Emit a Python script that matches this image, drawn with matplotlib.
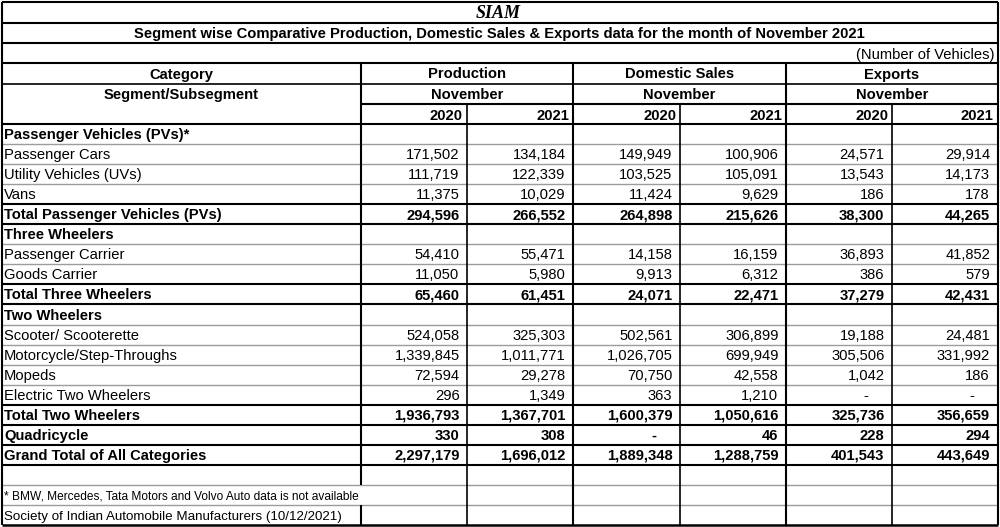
"""SIAM November 2021 segment-wise production / domestic sales / exports table."""

import matplotlib

matplotlib.use("Agg")
import matplotlib.pyplot as plt

# ---- data -----------------------------------------------------------------
row_labels = [
    "Passenger Vehicles (PVs)*",
    "Passenger Cars",
    "Utility Vehicles (UVs)",
    "Vans",
    "Total Passenger Vehicles (PVs)",
    "Three Wheelers",
    "Passenger Carrier",
    "Goods Carrier",
    "Total Three Wheelers",
    "Two Wheelers",
    "Scooter/ Scooterette",
    "Motorcycle/Step-Throughs",
    "Mopeds",
    "Electric Two Wheelers",
    "Total Two Wheelers",
    "Quadricycle",
    "Grand Total of All Categories",
]
# "heading" = segment title, "total" = bold row, "item" = normal row
row_kinds = ["heading", "item", "item", "item", "total",
             "heading", "item", "item", "total",
             "heading", "item", "item", "item", "item", "total",
             "total", "total"]

production_2020 = [None, 171502, 111719, 11375, 294596, None, 54410, 11050, 65460,
                   None, 524058, 1339845, 72594, 296, 1936793, 330, 2297179]
production_2021 = [None, 134184, 122339, 10029, 266552, None, 55471, 5980, 61451,
                   None, 325303, 1011771, 29278, 1349, 1367701, 308, 1696012]
domestic_2020 = [None, 149949, 103525, 11424, 264898, None, 14158, 9913, 24071,
                 None, 502561, 1026705, 70750, 363, 1600379, 0, 1889348]
domestic_2021 = [None, 100906, 105091, 9629, 215626, None, 16159, 6312, 22471,
                 None, 306899, 699949, 42558, 1210, 1050616, 46, 1288759]
exports_2020 = [None, 24571, 13543, 186, 38300, None, 36893, 386, 37279,
                None, 19188, 305506, 1042, 0, 325736, 228, 401543]
exports_2021 = [None, 29914, 14173, 178, 44265, None, 41852, 579, 42431,
                None, 24481, 331992, 186, 0, 356659, 294, 443649]

groups = ["Production", "Domestic Sales", "Exports"]
month = "November"
years = ["2020", "2021"]

title = "SIAM"
subtitle = ("Segment wise Comparative Production, Domestic Sales & Exports data "
            "for the month of November 2021")
unit_note = "(Number of Vehicles)"
footnote = "* BMW, Mercedes, Tata Motors and Volvo Auto data is not available"
source = "Society of Indian Automobile Manufacturers (10/12/2021)"

# ---- layout ---------------------------------------------------------------
W, H = 1000, 527
col_x = [1.5, 361, 467, 573, 680, 786, 892, 997.5]
head_y = [1.5, 23, 43, 63, 83.5, 104, 124]
row_h = 20.05
n_body = len(row_labels) + 3  # blank, footnote, source rows
body_y = [head_y[-1] + i * row_h for i in range(n_body + 1)]

SANS = "Liberation Sans"
FS = 10.6
BLACK = "#000000"
GREY = "#9c9c9c"
LW_THICK = 1.5
LW_THIN = 1.0

fig = plt.figure(figsize=(W / 100, H / 100), dpi=100)
ax = fig.add_axes([0, 0, 1, 1])
ax.set_xlim(0, W)
ax.set_ylim(H, 0)
ax.axis("off")

left, right = col_x[0], col_x[-1]

# header texts
ax.text((left + right) / 2 - 1, 18, title, ha="center", va="baseline",
        family="Liberation Serif", style="italic", weight="bold", fontsize=13)
ax.text((left + right) / 2, 38, subtitle, ha="center", va="baseline",
        family=SANS, weight="bold", fontsize=FS)
ax.text(right - 2.5, 58.5, unit_note, ha="right", va="baseline",
        family=SANS, fontsize=FS)
ax.text((col_x[0] + col_x[1]) / 2, 78.5, "Category", ha="center", va="baseline",
        family=SANS, weight="bold", fontsize=FS)
ax.text((col_x[0] + col_x[1]) / 2, 99, "Segment/Subsegment", ha="center",
        va="baseline", family=SANS, weight="bold", fontsize=FS)
for g, name in enumerate(groups):
    x0, x1 = col_x[1 + 2 * g], col_x[3 + 2 * g]
    ax.text((x0 + x1) / 2, 78.5, name, ha="center", va="baseline",
            family=SANS, weight="bold", fontsize=FS)
    ax.text((x0 + x1) / 2, 99, month, ha="center", va="baseline",
            family=SANS, weight="bold", fontsize=FS)
    for k, yr in enumerate(years):
        ax.text(col_x[2 + 2 * g + k] - 4, 119.5, yr, ha="right", va="baseline",
                family=SANS, weight="bold", fontsize=FS)

# body
series = [production_2020, production_2021, domestic_2020, domestic_2021,
          exports_2020, exports_2021]
for i, (label, kind) in enumerate(zip(row_labels, row_kinds)):
    base = body_y[i + 1] - 5
    weight = "normal" if kind == "item" else "bold"
    ax.text(col_x[0] + 2.5, base, label, ha="left", va="baseline",
            family=SANS, weight=weight, fontsize=FS)
    for c, vals in enumerate(series):
        v = vals[i]
        if v is None:
            continue
        edge = col_x[c + 2]
        if v == 0:
            ax.text(edge - 26, base, "-", ha="center", va="baseline",
                    family=SANS, weight=weight, fontsize=FS)
        else:
            ax.text(edge - 7.5, base, f"{v:,}", ha="right", va="baseline",
                    family=SANS, weight=weight, fontsize=FS)

n = len(row_labels)
ax.text(col_x[0] + 2.5, body_y[n + 2] - 5.5, footnote, ha="left", va="baseline",
        family=SANS, fontsize=8.6)
ax.text(col_x[0] + 2.5, body_y[n + 3] - 5, source, ha="left", va="baseline",
        family=SANS, fontsize=9.6)

# ---- grid -----------------------------------------------------------------
# header horizontals
for y in head_y[:4]:
    ax.hlines(y, left, right, color=BLACK, lw=LW_THICK)
ax.hlines(head_y[4], left, right, color=BLACK, lw=LW_THIN + 0.2)
ax.hlines(head_y[5], col_x[1], right, color=BLACK, lw=LW_THICK)
ax.hlines(head_y[6], left, right, color=BLACK, lw=LW_THICK)

# body horizontals: black next to a total row, grey otherwise
kinds_ext = row_kinds + ["blank", "note", "note"]
for j in range(1, n_body):
    above, below = kinds_ext[j - 1], kinds_ext[j]
    strong = above == "total" or below == "total"
    ax.hlines(body_y[j], left, right, color=BLACK if strong else GREY,
              lw=LW_THICK if strong else LW_THIN)
ax.hlines(body_y[-1], left, right, color=BLACK, lw=LW_THICK + 0.3)

# verticals
ax.vlines([left, right], head_y[0], body_y[-1], color=BLACK, lw=LW_THICK)
ax.vlines(col_x[1], head_y[3], body_y[n + 1], color=BLACK, lw=LW_THICK)
ax.vlines(col_x[1], body_y[n + 2], body_y[-1], color=BLACK, lw=LW_THICK)
ax.vlines([col_x[3], col_x[5]], head_y[3], body_y[-1], color=BLACK, lw=LW_THICK)
ax.vlines([col_x[2], col_x[4], col_x[6]], head_y[5], body_y[-1],
          color=BLACK, lw=LW_THIN + 0.2)

fig.savefig("out.png", dpi=100, facecolor="white")
plt.close(fig)
